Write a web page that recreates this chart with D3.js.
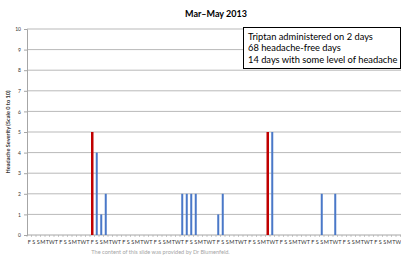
<!DOCTYPE html>
<html lang="en">
<head>
<meta charset="utf-8">
<title>Headache diary Mar-May 2013</title>
<script src="https://cdnjs.cloudflare.com/ajax/libs/d3/7.8.5/d3.min.js"></script>
<style>
  html, body { margin: 0; padding: 0; background: #fff; }
  svg { display: block; font-family: Lato, "Open Sans", sans-serif; }
</style>
</head>
<body>
<div id="chart"></div>
<script>
// day-of-week letters, starting Fri 1 March 2013
const dayLabels = [
  "F","S","S","M","T","W","T", "F","S","S","M","T","W","T",
  "F","S","S","M","T","W","T", "F","S","S","M","T","W","T",
  "F","S","S","M","T","W","T", "F","S","S","M","T","W","T",
  "F","S","S","M","T","W","T", "F","S","S","M","T","W","T",
  "F","S","S","M","T","W","T", "F","S","S","M","T","W","T",
  "F","S","S","M","T","W","T", "F","S","S","M","T","W"
];

// headache severity per day (0-10)
const severity = [
  0,0,0,0,0,0,0,  0,0,0,0,0,0,0,
  5,4,1,2,0,0,0,  0,0,0,0,0,0,0,
  0,0,0,0,0,0,2,  2,2,2,0,0,0,0,
  1,2,0,0,0,0,0,  0,0,0,0,5,5,0,
  0,0,0,0,0,0,0,  0,0,2,0,0,2,0,
  0,0,0,0,0,0,0,  0,0,0,0,0,0
];

// days (index into the arrays above) on which a triptan was taken
const triptanDays = [14, 53];

const yTicks = [0,1,2,3,4,5,6,7,8,9,10];

const noteLines = [
  "Triptan administered on 2 days",
  "68 headache-free days",
  "14 days with some level of headache"
];

const W = 401, H = 258;
const plot = {left: 27, right: 400.5, top: 29, bottom: 235};

const svg = d3.select("#chart").append("svg")
  .attr("width", W)
  .attr("height", H);

const x = d3.scaleBand()
  .domain(d3.range(dayLabels.length))
  .range([plot.left, plot.right])
  .padding(0);

const y = d3.scaleLinear()
  .domain([0, 10])
  .range([plot.bottom, plot.top]);

// title
svg.append("text")
  .attr("x", 216)
  .attr("y", 17)
  .attr("text-anchor", "middle")
  .style("font-size", "9px")
  .style("font-weight", "bold")
  .text("Mar\u2013May 2013");

// gridlines
svg.append("g")
  .selectAll("line")
  .data(yTicks.filter(d => d > 0))
  .join("line")
  .attr("x1", plot.left)
  .attr("x2", W)
  .attr("y1", d => y(d))
  .attr("y2", d => y(d))
  .attr("stroke", "#b9b9b9")
  .attr("stroke-width", 1);

// y axis
const yAxis = svg.append("g")
  .attr("transform", "translate(" + plot.left + ",0)")
  .call(d3.axisLeft(y).tickValues(yTicks).tickSize(3).tickPadding(3));
yAxis.select(".domain").attr("stroke", "#a6a6a6");
yAxis.selectAll(".tick line").attr("stroke", "#a6a6a6");
yAxis.selectAll("text")
  .style("font-size", "5px")
  .style("font-family", "Lato, sans-serif")
  .attr("fill", "#333");

// y axis title
svg.append("text")
  .attr("transform", "translate(10," + 132 + ") rotate(-90)")
  .attr("text-anchor", "middle")
  .style("font-size", "5.6px")
  .style("font-weight", "bold")
  .attr("fill", "#333")
  .text("Headache Severity (Scale 0 to 10)");

// x axis: ticks between categories, letters at centres
const xAxis = svg.append("g")
  .attr("transform", "translate(0," + plot.bottom + ")");
xAxis.append("line")
  .attr("x1", plot.left).attr("x2", W)
  .attr("stroke", "#a6a6a6");
xAxis.selectAll(".tk")
  .data(d3.range(dayLabels.length + 1))
  .join("line")
  .attr("class", "tk")
  .attr("x1", d => plot.left + d * x.step())
  .attr("x2", d => plot.left + d * x.step())
  .attr("y1", 0).attr("y2", 2)
  .attr("stroke", "#a6a6a6")
  .attr("stroke-width", 0.6);
xAxis.selectAll(".lbl")
  .data(dayLabels)
  .join("text")
  .attr("class", "lbl")
  .attr("x", (d, i) => x(i) + x.bandwidth() / 2)
  .attr("y", 9)
  .attr("text-anchor", "middle")
  .style("font-size", "5.5px")
  .attr("fill", "#333")
  .text(d => d);

// bars
svg.append("g")
  .selectAll("rect")
  .data(severity.map((v, i) => ({i: i, v: v, red: triptanDays.includes(i)})).filter(d => d.v > 0))
  .join("rect")
  .attr("x", d => x(d.i) + x.bandwidth() / 2 - (d.red ? 1.25 : 1))
  .attr("width", d => d.red ? 2.5 : 2)
  .attr("y", d => y(d.v))
  .attr("height", d => y(0) - y(d.v))
  .attr("fill", d => d.red ? "#c00000" : "#4a78c8");

// note box
const note = svg.append("g");
note.append("rect")
  .attr("x", 243.5).attr("y", 27.5)
  .attr("width", 157).attr("height", 41)
  .attr("fill", "#fff")
  .attr("stroke", "#000")
  .attr("stroke-width", 1);
note.selectAll("text")
  .data(noteLines)
  .join("text")
  .attr("x", 248)
  .attr("y", (d, i) => 39.5 + i * 11.5)
  .style("font-size", "9.3px")
  .text(d => d);

// footnote
svg.append("text")
  .attr("x", 160.5)
  .attr("y", 253.5)
  .attr("text-anchor", "middle")
  .style("font-size", "5.6px")
  .attr("fill", "#a6a6a6")
  .text("The content of this slide was provided by Dr Blumenfeld.");
</script>
</body>
</html>
